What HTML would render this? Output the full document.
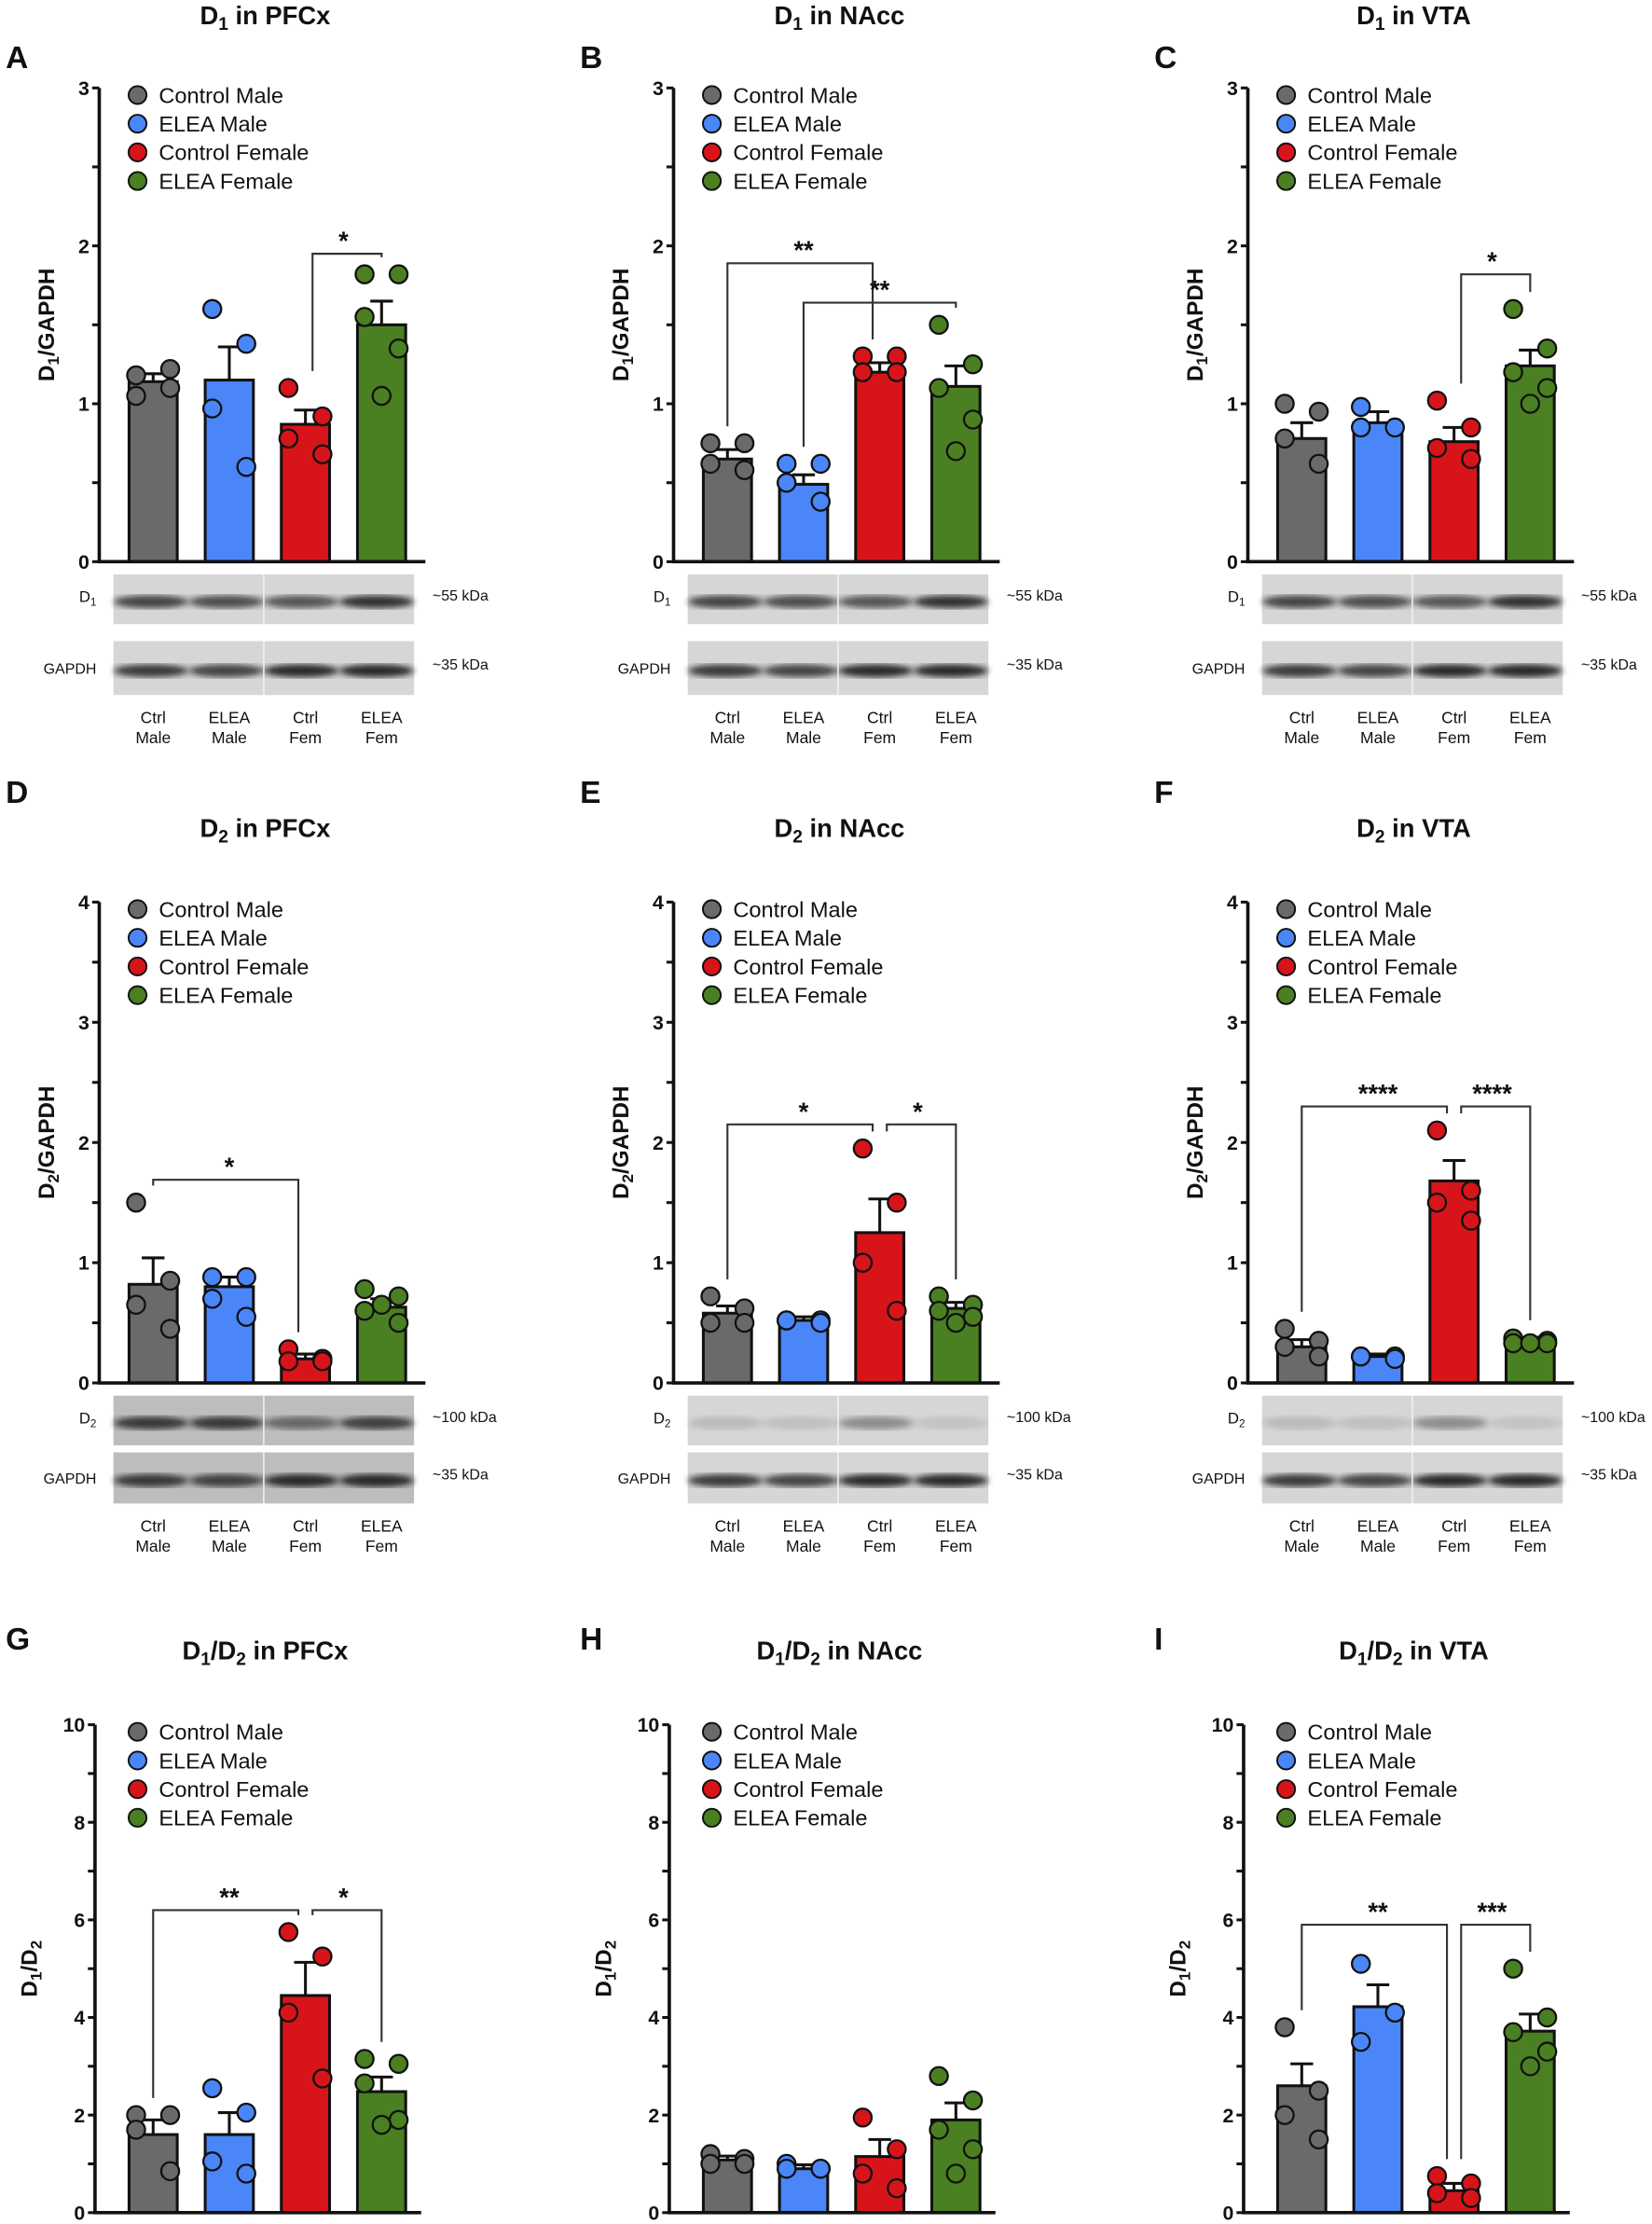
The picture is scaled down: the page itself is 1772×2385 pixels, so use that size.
<!DOCTYPE html>
<html><head><meta charset="utf-8"><style>
html,body{margin:0;padding:0;background:#fff}
svg{display:block;font-family:"Liberation Sans",Arial,sans-serif}
</style></head><body>
<svg id="fig" width="1772" height="2385" viewBox="0 0 1165 1568" xmlns="http://www.w3.org/2000/svg">
<defs><filter id="blur"><feGaussianBlur stdDeviation="2.2"/></filter></defs>
</svg>
<script>
const groups = ["Control Male","ELEA Male","Control Female","ELEA Female"];
const colors = ["#6a6a6a","#4a86f7","#d7141a","#4a7f22"];
const A_means=[1.14,1.15,0.87,1.50], A_sem=[0.05,0.21,0.09,0.15];
const A_pts=[[1.18,1.22,1.05,1.1],[1.6,1.38,0.97,0.6],[1.1,0.92,0.78,0.68],[1.82,1.82,1.55,1.35,1.05]];
const B_means=[0.65,0.49,1.20,1.11], B_sem=[0.06,0.06,0.06,0.13];
const B_pts=[[0.75,0.75,0.62,0.58],[0.62,0.62,0.5,0.38],[1.3,1.3,1.2,1.2],[1.5,1.25,1.1,0.9,0.7]];
const C_means=[0.78,0.88,0.76,1.24], C_sem=[0.10,0.07,0.09,0.10];
const C_pts=[[1.0,0.95,0.78,0.62],[0.98,0.85,0.85],[1.02,0.85,0.72,0.65],[1.6,1.35,1.2,1.1,1.0]];
const D_means=[0.82,0.80,0.20,0.63], D_sem=[0.22,0.08,0.04,0.07];
const D_pts=[[1.5,0.85,0.65,0.45],[0.88,0.88,0.7,0.55],[0.28,0.2,0.18,0.18],[0.78,0.72,0.6,0.5,0.65]];
const E_means=[0.58,0.52,1.25,0.62], E_sem=[0.06,0.03,0.28,0.05];
const E_pts=[[0.72,0.62,0.5,0.5],[0.52,0.52,0.52,0.5],[1.95,1.5,1.0,0.6],[0.72,0.65,0.6,0.55,0.5]];
const F_means=[0.30,0.22,1.68,0.35], F_sem=[0.06,0.02,0.17,0.03];
const F_pts=[[0.45,0.35,0.3,0.22],[0.22,0.22,0.22,0.2],[2.1,1.6,1.5,1.35],[0.37,0.35,0.33,0.33,0.33]];
const G_means=[1.6,1.6,4.45,2.48], G_sem=[0.3,0.45,0.68,0.3];
const G_pts=[[2.0,2.0,1.7,0.85],[2.55,2.05,1.05,0.8],[5.75,5.25,4.1,2.75],[3.15,3.05,2.65,1.9,1.8]];
const H_means=[1.08,0.90,1.15,1.90], H_sem=[0.08,0.08,0.35,0.35];
const H_pts=[[1.2,1.1,1.0,1.0],[1.0,0.9,0.9,0.9],[1.95,1.3,0.8,0.5],[2.8,2.3,1.7,1.3,0.8]];
const I_means=[2.6,4.22,0.45,3.72], I_sem=[0.45,0.45,0.15,0.35];
const I_pts=[[3.8,2.5,2.0,1.5],[5.1,4.1,3.5],[0.75,0.6,0.4,0.3],[5.0,4.0,3.7,3.3,3.0]];
const A_sig=[[2,3,1.95,"*"]], B_sig=[[0,2,1.89,"**"],[1,3,1.64,"**"]], C_sig=[[2,3,1.82,"*"]];
const D_sig=[[0,2,1.69,"*"]], E_sig=[[0,2,2.15,"*"],[2,3,2.15,"*"]], F_sig=[[0,2,2.3,"****"],[2,3,2.3,"****"]];
const G_sig=[[0,2,6.2,"**"],[2,3,6.2,"*"]], H_sig=[], I_sig=[[0,2,5.9,"**"],[2,3,5.9,"***"]];

const svg=document.getElementById('fig');
const NS="http://www.w3.org/2000/svg";
function mk(tag,attrs,parent){const e=document.createElementNS(NS,tag);for(const k in attrs)e.setAttribute(k,attrs[k]);(parent||svg).appendChild(e);return e;}
function txt(x,y,s,size,weight,anchor,parent){const t=mk('text',{x:x,y:y,'font-size':size,'font-weight':weight||'normal','text-anchor':anchor||'start',fill:'#111'},parent);t.textContent=s;return t;}

const panels=[
 {L:"A",t:["D","1"," in PFCx"],yl:["D","1","/GAPDH"],col:0,row:0,m:A_means,s:A_sem,p:A_pts,sig:A_sig,max:3,minor:0.5,lab:1,blot:["1","~55 kDa"]},
 {L:"B",t:["D","1"," in NAcc"],yl:["D","1","/GAPDH"],col:1,row:0,m:B_means,s:B_sem,p:B_pts,sig:B_sig,max:3,minor:0.5,lab:1,blot:["1","~55 kDa"]},
 {L:"C",t:["D","1"," in VTA"],yl:["D","1","/GAPDH"],col:2,row:0,m:C_means,s:C_sem,p:C_pts,sig:C_sig,max:3,minor:0.5,lab:1,blot:["1","~55 kDa"]},
 {L:"D",t:["D","2"," in PFCx"],yl:["D","2","/GAPDH"],col:0,row:1,m:D_means,s:D_sem,p:D_pts,sig:D_sig,max:4,minor:0.5,lab:1,blot:["2","~100 kDa"]},
 {L:"E",t:["D","2"," in NAcc"],yl:["D","2","/GAPDH"],col:1,row:1,m:E_means,s:E_sem,p:E_pts,sig:E_sig,max:4,minor:0.5,lab:1,blot:["2","~100 kDa"]},
 {L:"F",t:["D","2"," in VTA"],yl:["D","2","/GAPDH"],col:2,row:1,m:F_means,s:F_sem,p:F_pts,sig:F_sig,max:4,minor:0.5,lab:1,blot:["2","~100 kDa"]},
 {L:"G",t:["D","1","/D","2"," in PFCx"],yl:["D","1","/D","2"],col:0,row:2,m:G_means,s:G_sem,p:G_pts,sig:G_sig,max:10,minor:1,lab:2},
 {L:"H",t:["D","1","/D","2"," in NAcc"],yl:["D","1","/D","2"],col:1,row:2,m:H_means,s:H_sem,p:H_pts,sig:H_sig,max:10,minor:1,lab:2},
 {L:"I",t:["D","1","/D","2"," in VTA"],yl:["D","1","/D","2"],col:2,row:2,m:I_means,s:I_sem,p:I_pts,sig:I_sig,max:10,minor:1,lab:2},
];
const rows=[{top:62,bot:396,title:17,letter:48,legY:67},{top:636,bot:975,title:590,letter:566,legY:641},{top:1216,bot:1560,title:1170,letter:1163,legY:1221}];
const jit=[-12,12,-12,12,0];

function richText(x,y,parts,size,anchor,parent,rot,weight){
  const t=mk('text',{x:x,y:y,'font-size':size,'font-weight':weight||'bold','text-anchor':anchor,fill:'#111'},parent);
  if(rot)t.setAttribute('transform',rot);
  parts.forEach((s,i)=>{const ts=document.createElementNS(NS,'tspan');
    const sub=(i%2===1);
    if(sub){ts.setAttribute('baseline-shift','-30%');ts.setAttribute('font-size',size*0.7);}
    ts.textContent=s;t.appendChild(ts);});
  return t;
}

panels.forEach(P=>{
  const ox=P.col*405, R=rows[P.row];
  const g=mk('g',{});
  
  
  const axX=70+ox+(P.row===2?-3:0);
  const y=v=>R.bot-(v/P.max)*(R.bot-R.top);
  const xc=i=>108+ox+i*53.7;
  const lt=txt(4+ox,R.letter,P.L,22,'bold','start',g);
  
  const tt=richText(187+ox,R.title,P.t,18,'middle',g);
  
  const yx=(P.row===2?26:38)+ox, yy=(R.top+R.bot)/2;
  const yt=richText(yx,yy,P.yl,16,'middle',g,'rotate(-90 '+yx+' '+yy+')');
  
  P.m.forEach((v,i)=>{
    const b=mk('rect',{x:xc(i)-17,y:y(v),width:34,height:R.bot-y(v),fill:colors[i],stroke:'#111','stroke-width':2},g);
    
    
    const e=mk('path',{d:`M${xc(i)} ${y(v)} V${y(v+P.s[i])} M${xc(i)-8} ${y(v+P.s[i])} H${xc(i)+8}`,stroke:'#111','stroke-width':2,fill:'none'},g);
    
  });
  P.p.forEach((arr,i)=>arr.forEach((v,k)=>{
    const c=mk('circle',{cx:xc(i)+jit[k],cy:y(v),r:6.3,fill:colors[i],stroke:'#111','stroke-width':1.5},g);
    
  }));
  const ax=mk('path',{d:`M${axX} ${R.top} V${R.bot} H${axX+230}`,stroke:'#111','stroke-width':2.4,fill:'none'},g);
  
  for(let v=0;v<=P.max+1e-9;v+=P.minor){
    mk('line',{x1:axX-5,x2:axX,y1:y(v),y2:y(v),stroke:'#111','stroke-width':2},g);
    if(Math.abs(v/P.lab-Math.round(v/P.lab))<1e-6){
      const tl=txt(axX-7,y(v)+5,String(Math.round(v)),14,'bold','end',g);
      
    }
  }
  P.sig.forEach(s=>{
    const a=xc(s[0]),b=xc(s[1]),yb=y(s[2]);
    const off1=s[0]===2?5:0, off2=s[1]===2?-5:0;
    const topA=Math.max(...P.p[s[0]],P.m[s[0]]+P.s[s[0]]);
    const topB=Math.max(...P.p[s[1]],P.m[s[1]]+P.s[s[1]]);
    const br=mk('path',{d:`M${a+off1} ${y(topA)-12} V${yb} H${b+off2} V${y(topB)-12}`,stroke:'#333','stroke-width':1.4,fill:'none'},g);
    
    const st=txt((a+b)/2,yb-3,s[3],18,'bold','middle',g);
    
  });
  groups.forEach((n,i)=>{
    const ly=R.legY+i*20.2;
    const lc=mk('circle',{cx:97+ox,cy:ly,r:6.3,fill:colors[i],stroke:'#111','stroke-width':1.3},g);
    
    const lx=txt(112+ox,ly+5.5,n,15.5,'normal','start',g);
    
  });
  if(P.blot){
    const b1=R.bot+9, b1h=35, b2=R.bot+(P.row===0?56:49), b2h=P.row===0?38:36;
    const bx=80+ox,bw=212;
    const bg=mk('g',{},g);
    
    const dark1=P.row===0?[0.8,0.75,0.7,0.9]:(P.col===0?[0.85,0.85,0.55,0.8]:[0.15,0.12,0.4,0.1]);
    [[b1,b1h,dark1],[b2,b2h,[0.85,0.8,0.95,0.95]]].forEach(([by,bh,d])=>{
      mk('rect',{x:bx,y:by,width:bw,height:bh,fill:P.row===1&&P.col===0?'#bdbdbd':'#d6d6d6'},bg);
      for(let i=0;i<4;i++){
        mk('ellipse',{cx:bx+bw*(i+0.5)/4,cy:by+bh*0.55,rx:bw/8,ry:4.5,fill:'#1a1a1a',opacity:d[i],filter:'url(#blur)'},bg);
      }
      mk('line',{x1:bx+bw/2,x2:bx+bw/2,y1:by,y2:by+bh,stroke:'#f2f2f2','stroke-width':1},bg);
    });
    const bl=richText(bx-12,b1+b1h/2+2,["D",P.blot[0]],11,'end',bg,null,'normal');
    
    txt(bx-12,b2+b2h/2+4,"GAPDH",10.5,'normal','end',bg);
    txt(bx+bw+13,b1+b1h/2+1,P.blot[1],10.5,'normal','start',bg);
    txt(bx+bw+13,b2+b2h/2+1,"~35 kDa",10.5,'normal','start',bg);
    const l1=["Ctrl","ELEA","Ctrl","ELEA"],l2=["Male","Male","Fem","Fem"];
    const ly=b2+b2h+20;
    for(let i=0;i<4;i++){
      const a=txt(xc(i),ly,l1[i],11.5,'normal','middle',bg);
      
      const c=txt(xc(i),ly+14,l2[i],11.5,'normal','middle',bg);
      
    }
  }
});
</script>
</body></html>
